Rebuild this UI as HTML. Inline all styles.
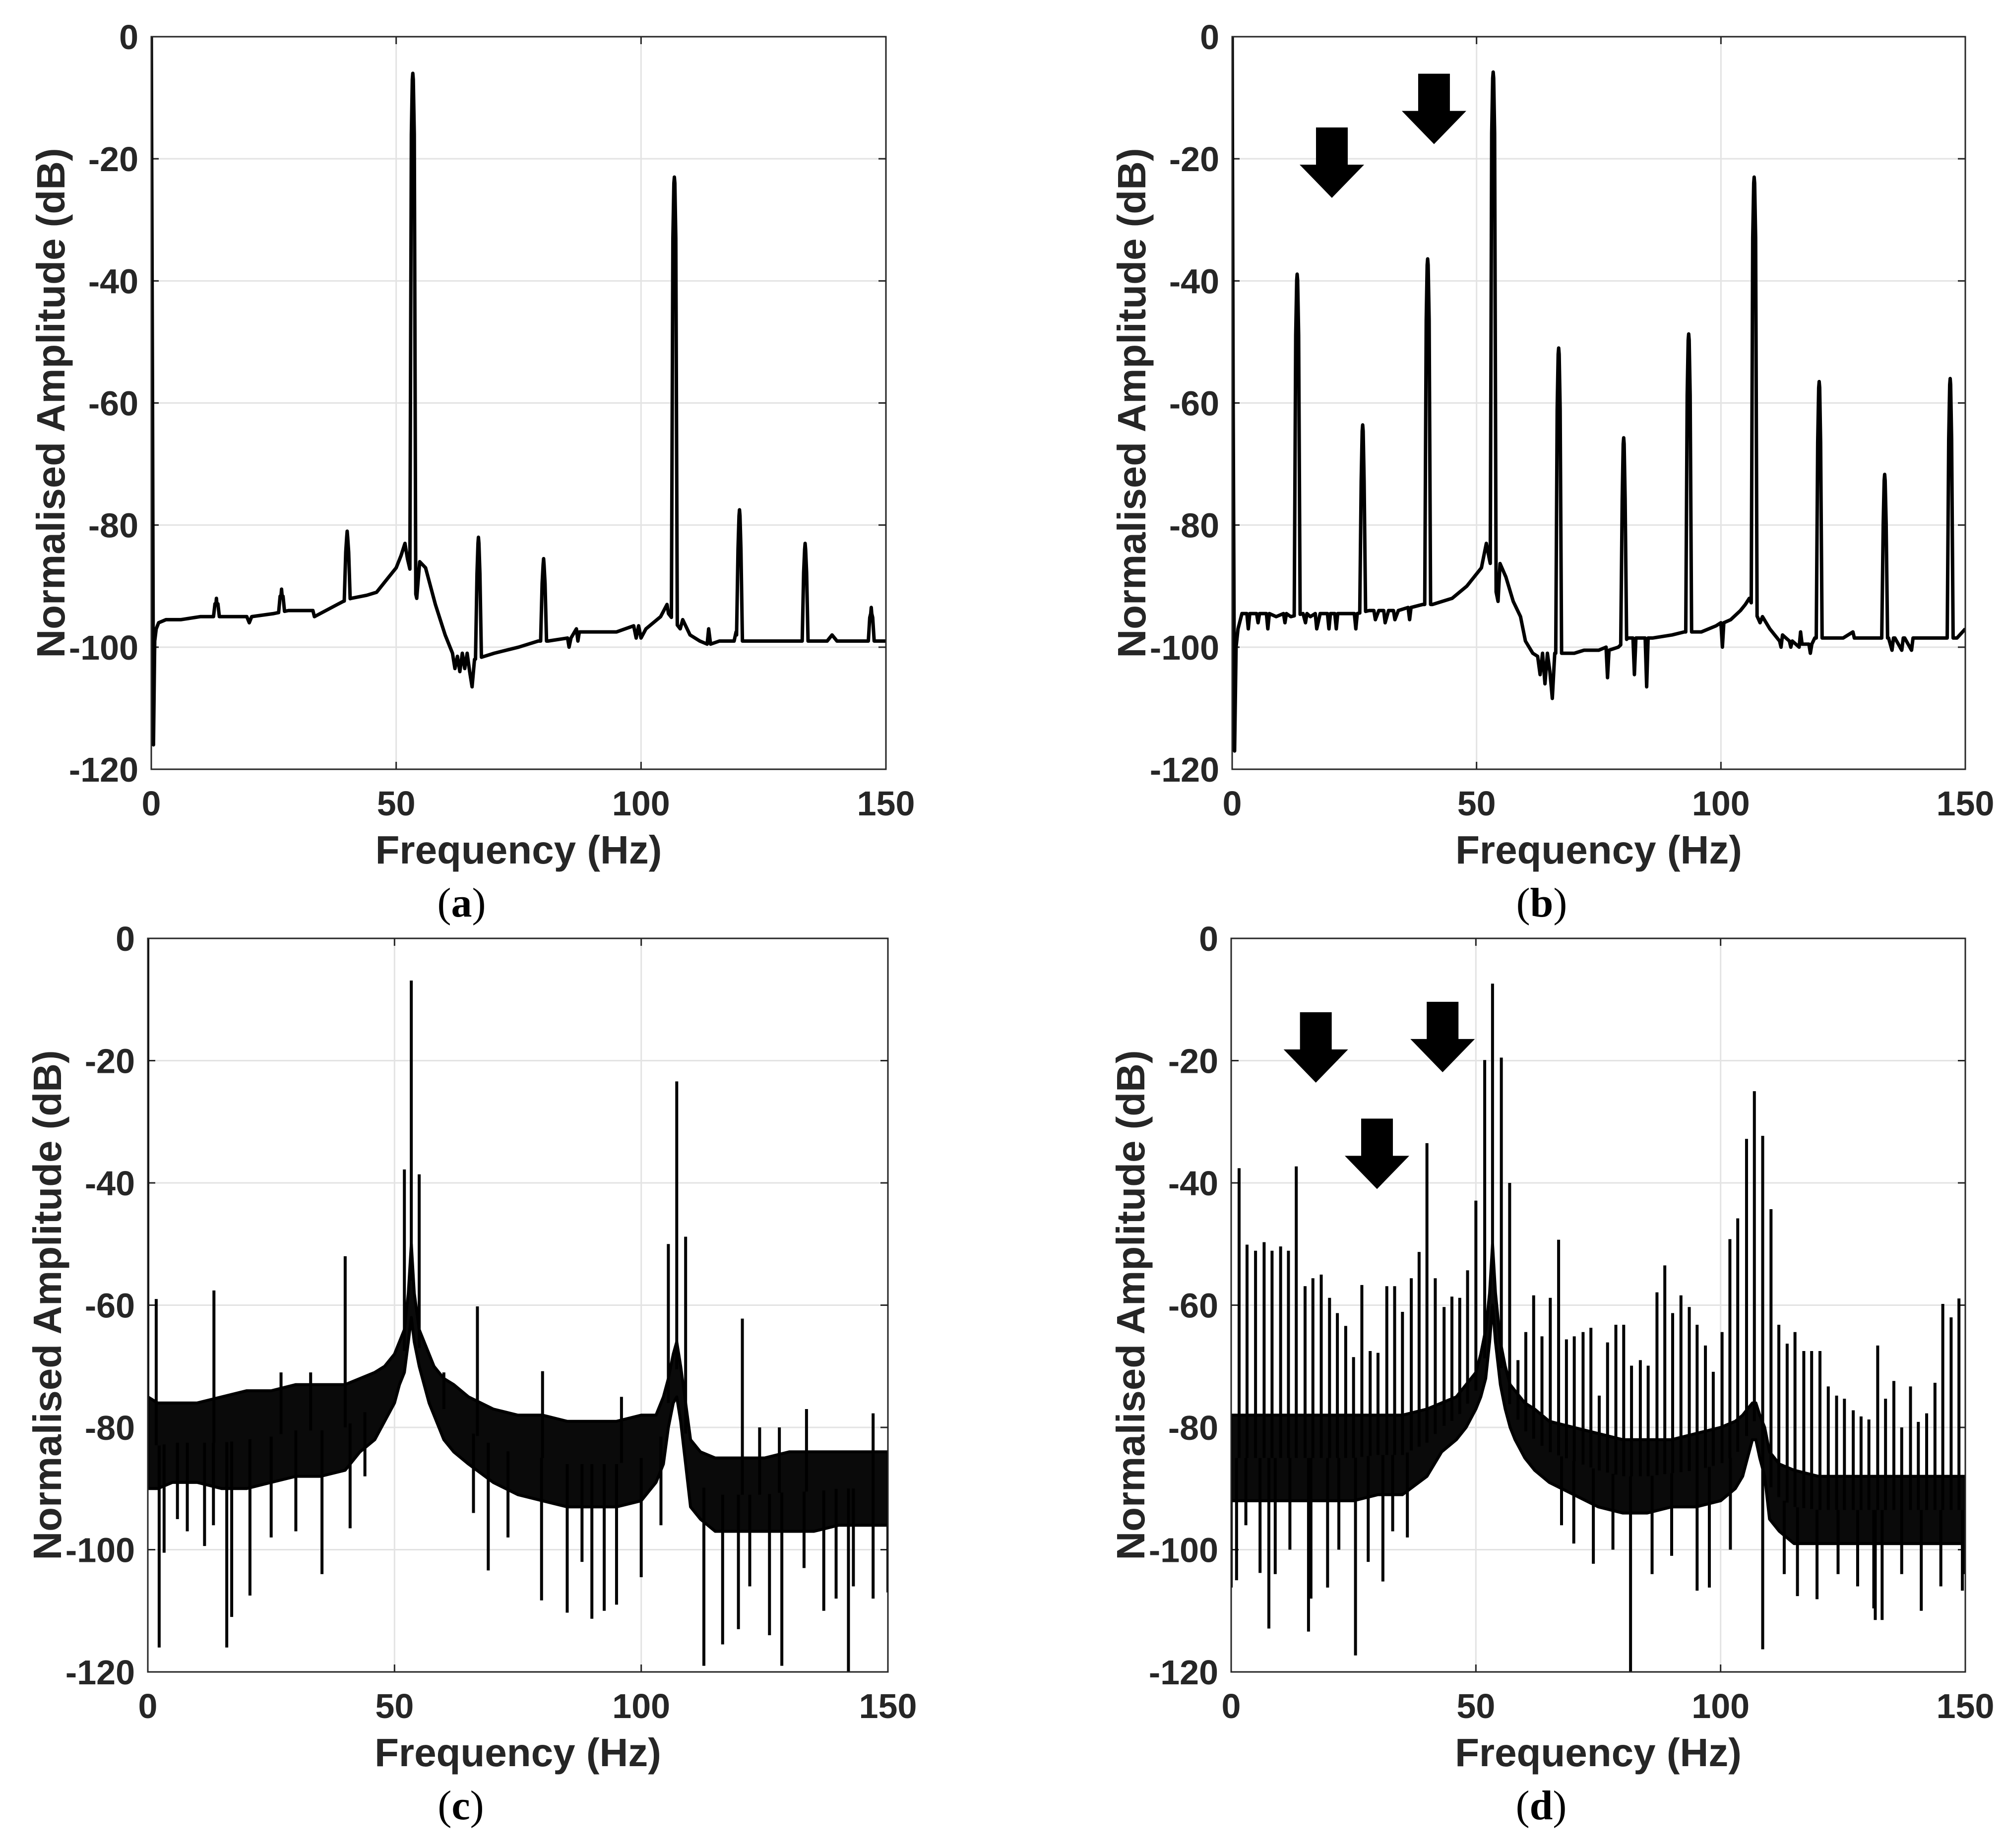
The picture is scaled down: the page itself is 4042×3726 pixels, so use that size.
<!DOCTYPE html>
<html><head><meta charset="utf-8"><style>
html,body{margin:0;padding:0;background:#fff;}
svg{display:block;}
text{font-family:"Liberation Sans",Arial,sans-serif;font-weight:bold;fill:#262626;}
.cap{font-family:"Liberation Serif",serif;font-weight:normal;fill:#000;}
</style></head><body>
<svg id="fig" width="4042" height="3726" viewBox="0 0 4042 3726" xmlns="http://www.w3.org/2000/svg"></svg>
<script>
// ---------- data ----------
const xTicks=[0,50,100,150];
const yTicks=[0,-20,-40,-60,-80,-100,-120];
const xTickLabels=["0","50","100","150"];
const yTickLabels=["0","-20","-40","-60","-80","-100","-120"];

// (a)
const baseFreqA=[0,0.25,0.45,0.7,1.0,1.5,3,6,10,12,15,19.5,20,20.5,25,28,33,33.3,38,39.2,40.8,44,46,48,50,51,51.8,52.3,54.2,54.8,56,58,60,61.5,62,62.5,63,63.5,64,64.5,65,65.5,66,68,70,75,79,81,85,85.3,85.7,86.8,87.1,87.4,95,98.5,99,99.5,100,101,104,105.3,105.6,108,108.5,110,112,113.5,113.8,114.2,116,119,119.4,119.7,121,125,130,132.8,134.2,138,139,140,145,146,148,150];
const baseDBA=[0,-60,-116,-99,-97,-96,-95.5,-95.5,-95,-95,-95,-95,-96,-95,-94.5,-94,-94,-95,-93,-92.5,-92,-91.5,-91,-89,-87,-85,-83,-85.5,-92,-86,-87,-93,-98,-101,-103.5,-101.5,-104,-101,-103.5,-101,-104,-106.5,-102,-101.5,-101,-100,-99,-99,-98.5,-100,-98.5,-97,-99,-97.5,-97.5,-96.5,-98.5,-96.5,-98.5,-97,-95,-93,-94.5,-97,-95.5,-98,-99,-99.5,-97,-99.5,-99,-99,-97.5,-99,-99,-99,-99,-99,-99,-99,-98,-99,-99,-99,-99,-99];
const peakFreqA=[13.3,26.6,40,53.4,66.8,80.1,106.8,120.1,133.5,147];
const peakDBA=[-92,-90.5,-81,-6,-82,-85.5,-23,-77.5,-83,-93.5];

// (b)
const baseFreqB=[0,0.2,0.5,0.8,1.2,2,3,3.3,3.6,5,5.3,5.6,7,7.3,7.6,9,10.5,10.8,11.1,12,14.5,15,15.3,16,17,17.3,18,19.5,19.8,20.1,21,21.3,21.6,24,25,25.3,25.6,28,29,29.3,30,31,31.3,32,33,33.3,34,36,36.3,36.6,39,41,43,45,48,51,52,52.6,54.4,54.8,56,57.5,59,60,61.5,62.5,63,63.5,64,64.5,65,65.5,66,68,70,72,75,76.5,76.8,77.1,79,81,82,82.3,82.6,83,84,84.5,84.8,85.1,86,90,92.5,94.5,96,99,100,100.3,100.6,102,104,105,105.8,108,108.5,110,111,112,112.3,112.6,114,114.3,114.6,116,116.3,116.6,118,118.3,118.6,119.2,121,122,125,127,127.3,127.6,130,132.5,134.3,135,135.3,135.6,137,137.3,137.6,139,139.3,139.6,141,144,145,146,148,148.3,150];
const baseDBB=[0,-60,-117,-100,-97,-94.5,-94.5,-97,-94.5,-94.5,-96,-94.5,-94.5,-97,-94.5,-95,-94.5,-96,-94.5,-95,-94.5,-96,-94.5,-95,-94.5,-97,-94.5,-94.5,-97,-94.5,-94.5,-97,-94.5,-94.5,-94.5,-97,-94.5,-94,-94,-95.5,-94,-94,-96,-94,-94,-95.5,-94,-93.5,-95.5,-93.5,-93,-93,-92.5,-92,-90,-87,-83,-85.5,-92.5,-86.3,-88.5,-92.5,-95,-99,-101,-101.5,-104.5,-101,-106,-101,-104,-108.4,-101,-101,-101,-100.5,-100.5,-100,-105,-100.5,-100,-98.5,-98.5,-104.5,-98.5,-98.5,-98.5,-98.5,-106.5,-98.5,-98.5,-98,-97.5,-97.5,-97.5,-96.5,-96,-100,-96,-95.5,-94,-93,-92,-96,-95,-97,-98,-99,-100,-98,-99,-100,-99,-100,-97.5,-99.5,-99.5,-101,-99.5,-98.5,-98.5,-98.5,-98.5,-97.5,-98.5,-98.5,-98.5,-98.5,-98.5,-100.5,-98.5,-98.5,-100.5,-98.5,-98.5,-100.5,-98.5,-98.5,-98.5,-98.5,-98.5,-98.5,-98.5,-98.5,-97,-98.5];
const peakFreqB=[13.3,26.7,40,53.4,66.8,80.1,93.4,106.8,120.1,133.5,146.9];
const peakDBB=[-38.9,-63.6,-36.4,-5.8,-51,-65.7,-48.7,-23,-56.5,-71.7,-56];
const arrowFreqB=[20.4,41.3];
const arrowTipDBB=[-26.4,-17.6];

// (c)
const bandFreq=[0,2,5,10,15,20,25,30,35,40,43,46,48,50,51,52,52.8,53.4,54,55,56,57,58,60,62,65,70,75,80,85,90,95,100,103,104.5,105.5,106.5,107.2,108,109,110,112,115,120,125,130,135,140,145,150];
const bandUpperC=[-75,-76,-76,-76,-75,-74,-74,-73,-73,-73,-72,-71,-70,-68,-66,-64,-58,-50,-58,-64,-66,-68,-70,-72,-73,-75,-77,-78,-78,-79,-79,-79,-78,-78,-75,-72,-68,-66,-70,-76,-82,-84,-85,-85,-85,-84,-84,-84,-84,-84];
const bandLowerC=[-90,-90,-89,-89,-90,-90,-89,-88,-88,-87,-84,-82,-79,-76,-73,-71,-66,-62,-66,-70,-73,-76,-78,-82,-84,-86,-89,-91,-92,-93,-93,-93,-92,-89,-86,-80,-76,-75,-79,-86,-93,-95,-97,-97,-97,-97,-97,-96,-96,-96];
const upFreqC=[0,1.7,13.4,27,33,40,52,53.4,55,60,66.8,80,96,105.5,107.2,109,120.5,124,128,133.5,147];
const upDBC=[0,-59,-57.6,-71,-71,-52,-37.8,-6.9,-38.6,-71,-60.2,-70.8,-75,-50,-23.4,-48.8,-62.2,-80,-80,-77,-77.7];
const downFreqC=[2.3,3.3,6,8,11.5,13.3,16,17,20.7,25,30,35.3,41,44,66,69,73,79.8,85,88,90,92.5,95,100,104,112.7,116.5,119.7,122,126,128.5,133,137,139.5,142,143,147,150];
const downDBC=[-116,-100.5,-95,-97,-99.4,-96,-116,-111,-107.5,-98,-97,-104,-96.5,-88,-94,-103.4,-98,-108.3,-110.3,-102,-111.3,-110,-109,-104.5,-96,-119,-115.5,-113,-106,-114,-119,-103,-110,-108,-120,-106,-108,-107];

// (d)
const bandUpperD=[-78,-78,-78,-78,-78,-78,-78,-78,-78,-77,-76,-75,-73,-71,-68,-64,-58,-50,-58,-66,-70,-73,-74,-76,-77,-79,-80,-81,-82,-82,-82,-81,-80,-79,-78,-77,-76,-76,-78,-80,-84,-86,-87,-88,-88,-88,-88,-88,-88,-88];
const bandLowerD=[-92,-92,-92,-92,-92,-92,-92,-91,-91,-88,-84,-82,-80,-77,-75,-72,-66,-60,-66,-73,-77,-80,-82,-85,-87,-89,-91,-93,-94,-94,-93,-93,-92,-90,-88,-85,-82,-82,-85,-88,-95,-97,-99,-99,-99,-99,-99,-99,-99,-99];
const upFreqD=[1.62,3.24,4.98,6.73,8.35,10.1,11.7,13.3,15.1,16.7,18.4,20.1,21.7,23.4,25.0,26.7,28.4,30.0,31.8,33.4,35.0,36.8,38.4,40.0,41.7,43.5,45.1,46.7,48.3,50.0,51.8,53.4,55.2,56.9,58.6,60.2,61.8,63.5,65.2,66.9,68.5,70.1,71.9,73.5,75.2,76.9,78.6,80.2,81.8,83.6,85.2,87.0,88.6,90.2,91.9,93.6,95.2,96.9,98.5,100.3,101.9,103.5,105.3,106.9,108.6,110.3,111.9,113.6,115.2,117.0,118.6,120.3,122.0,123.7,125.3,127.1,128.7,130.3,132.1,133.7,135.4,137.0,138.8,140.4,142.1,143.8,145.4,147.1,148.7];
const upDBD=[-37.6,-50.1,-51.1,-49.7,-51.1,-50.4,-51.1,-37.3,-56.9,-55.6,-55.0,-58.8,-61.3,-63.4,-68.5,-56.7,-67.5,-67.8,-56.9,-56.9,-61.1,-55.6,-51.3,-33.5,-55.6,-60.3,-58.6,-58.8,-54.3,-42.9,-19.9,-7.4,-19.5,-40.0,-69.0,-64.4,-58.4,-65.1,-58.8,-49.3,-65.6,-65.1,-64.4,-63.7,-74.8,-66.1,-63.2,-63.2,-69.9,-69.0,-69.9,-57.9,-53.5,-61.3,-58.4,-60.3,-63.2,-66.6,-70.9,-64.4,-49.2,-45.8,-32.8,-25.0,-32.3,-44.3,-63.2,-66.3,-64.4,-67.5,-67.5,-67.5,-73.3,-74.8,-75.3,-77.2,-78.2,-78.7,-66.6,-75.3,-72.4,-80,-73.3,-79.1,-77.7,-72.7,-59.8,-62.0,-58.9];
const downFreqD=[0,1.1,3,5.9,7.7,9,12,15.8,16.3,19.7,22,25.4,28,31,33,36,67.5,70,74,78,81.6,86,90,95.2,97.7,102,108.6,113,115.7,119.7,124,128,131.3,131.6,133,137,141,145,149.4,150];
const downDBD=[-106.2,-105,-96,-103.8,-112.9,-104,-100,-113.4,-108,-106.2,-100,-117.3,-102,-105.2,-97,-98,-96,-99,-102.3,-100,-120,-104,-101,-106.7,-106.2,-100,-116.3,-104,-107.6,-108.1,-104,-106,-109.6,-111.5,-111.5,-104,-110,-106,-106.7,-104];
const arrowFreqD=[17.3,43.2,29.8];
const arrowTipDBD=[-23.6,-21.9,-41.0];

// ---------- rendering ----------
const NS="http://www.w3.org/2000/svg";
const svg=document.getElementById("fig");
function mk(tag,attrs,parent){const e=document.createElementNS(NS,tag);for(const k in attrs)e.setAttribute(k,attrs[k]);(parent||svg).appendChild(e);return e;}

const panels=[
 {id:"a",x0:305,y0:74,w:1481,h:1477},
 {id:"b",x0:2484,y0:74,w:1478,h:1477},
 {id:"c",x0:298,y0:1892,w:1492,h:1479},
 {id:"d",x0:2482,y0:1892,w:1480,h:1479}
];
function sx(p,f){return p.x0+f/150*p.w;}
function sy(p,d){return p.y0+(-d)/120*p.h;}

function drawAxes(p,g){
  xTicks.forEach((t,i)=>{
    const x=sx(p,t);
    const gl=mk("line",{x1:x,y1:p.y0,x2:x,y2:p.y0+p.h,stroke:"#e3e3e3","stroke-width":3},g);
    
    
    const tk=mk("path",{d:`M${x},${p.y0+p.h}v-15M${x},${p.y0}v15`,stroke:"#262626","stroke-width":3,fill:"none"},g);
    
    
    const tl=mk("text",{x:x,y:p.y0+p.h+93,"font-size":70,"text-anchor":"middle"},g);
    tl.textContent=xTickLabels[i];
    
    
  });
  yTicks.forEach((t,i)=>{
    const y=sy(p,t);
    const gl=mk("line",{x1:p.x0,y1:y,x2:p.x0+p.w,y2:y,stroke:"#e3e3e3","stroke-width":3},g);
    
    
    const tk=mk("path",{d:`M${p.x0},${y}h15M${p.x0+p.w},${y}h-15`,stroke:"#262626","stroke-width":3,fill:"none"},g);
    
    
    const tl=mk("text",{x:p.x0-26,y:y+25,"font-size":70,"text-anchor":"end"},g);
    tl.textContent=yTickLabels[i];
    
    
  });
  const xt=mk("text",{x:p.x0+p.w/2,y:p.y0+p.h+190,"font-size":80,"text-anchor":"middle"},g);
  xt.textContent="Frequency (Hz)";
  
  
  const cx=p.x0-203, cy=p.y0+p.h/2;
  const yt=mk("text",{x:cx,y:cy+28,"font-size":80,"text-anchor":"middle",transform:`rotate(-90 ${cx} ${cy})`},g);
  yt.textContent="Normalised Amplitude (dB)";
  
  
  const cap=mk("text",{x:p.x0+p.w/2-115,y:p.y0+p.h+297,"font-size":84,"text-anchor":"middle",class:"cap"},g);
  cap.innerHTML='(<tspan font-weight="bold">'+p.id+'</tspan>)';
  
  
}
function drawFrame(p,g){
  const fr=mk("rect",{x:p.x0,y:p.y0,width:p.w,height:p.h,fill:"none",stroke:"#262626","stroke-width":3},g);
  
  
}
function drawSmooth(p,g,bf,bd,pf,pd){
  const pts=[];
  const n=Math.min(bf.length,bd.length);
  for(let i=0;i<n;i++)pts.push([bf[i],bd[i]]);
  function baseAt(f){for(let i=0;i<n-1;i++){if(bf[i]<=f&&bf[i+1]>=f){const t=(f-bf[i])/(bf[i+1]-bf[i]||1);return bd[i]+t*(bd[i+1]-bd[i]);}}return bd[n-1];}
  for(let k=0;k<pf.length;k++){
    const f=pf[k],v=pd[k];
    for(let i=pts.length-1;i>=0;i--){if(Math.abs(pts[i][0]-f)<0.55)pts.splice(i,1);}
    const bl=baseAt(f-0.6), br=baseAt(f+0.6);
    const drop=Math.min(10,Math.max(0,(v-Math.min(bl,br))*0.3));
    pts.push([f-0.6,bl],[f-0.3,v-drop],[f-0.1,v-1],[f,v],[f+0.1,v-1],[f+0.3,v-drop],[f+0.6,br]);
  }
  pts.sort((a,b)=>a[0]-b[0]);
  const d=pts.map((q,i)=>(i?"L":"M")+sx(p,q[0]).toFixed(1)+","+sy(p,Math.max(-120,q[1])).toFixed(1)).join("");
  const path=mk("path",{d:d,fill:"none",stroke:"#000","stroke-width":7,"stroke-linejoin":"round"},g);
  
  
}
function drawNoisy(p,g,up,lo,uf,ud,df,dd){
  let d="";
  for(let i=0;i<bandFreq.length;i++)d+=(i?"L":"M")+sx(p,bandFreq[i]).toFixed(1)+","+sy(p,up[i]).toFixed(1);
  for(let i=bandFreq.length-1;i>=0;i--)d+="L"+sx(p,bandFreq[i]).toFixed(1)+","+sy(p,lo[i]).toFixed(1);
  const band=mk("path",{d:d+"Z",fill:"#0a0a0a",stroke:"#000","stroke-width":6,"stroke-linejoin":"round"},g);
  
  
  function mid(f){for(let i=0;i<bandFreq.length-1;i++){if(bandFreq[i]<=f&&bandFreq[i+1]>=f){const t=(f-bandFreq[i])/(bandFreq[i+1]-bandFreq[i]);return ((up[i]+lo[i])/2)*(1-t)+((up[i+1]+lo[i+1])/2)*t;}}return (up[up.length-1]+lo[lo.length-1])/2;}
  for(let i=0;i<Math.min(uf.length,ud.length);i++){
    const x=sx(p,uf[i]);
    const s=mk("line",{x1:x,y1:sy(p,mid(uf[i])),x2:x,y2:sy(p,ud[i]),stroke:"#000","stroke-width":6},g);
    
    
  }
  for(let i=0;i<Math.min(df.length,dd.length);i++){
    const x=sx(p,df[i]);
    const s=mk("line",{x1:x,y1:sy(p,mid(df[i])),x2:x,y2:sy(p,Math.max(-120,dd[i])),stroke:"#000","stroke-width":6},g);
    
    
  }
}
function drawArrows(p,g,af,ad){
  for(let i=0;i<af.length;i++){
    const x=sx(p,af[i]),y=sy(p,ad[i]);
    const d=`M${x-32},${y-142}h64v75h33l-65,67l-65,-67h33z`;
    const a=mk("path",{d:d,fill:"#000"},g);
    
    
  }
}

panels.forEach(p=>{
  const g=mk("g",{});
  
  
  drawAxes(p,g);
  const clipId="clip"+p.id;
  const cp=mk("clipPath",{id:clipId},g);
  mk("rect",{x:p.x0,y:p.y0-2,width:p.w,height:p.h+4},cp);
  const pg=mk("g",{"clip-path":`url(#${clipId})`},g);
  
  
  if(p.id==="a")drawSmooth(p,pg,baseFreqA,baseDBA,peakFreqA,peakDBA);
  if(p.id==="b"){drawSmooth(p,pg,baseFreqB,baseDBB,peakFreqB,peakDBB);drawArrows(p,pg,arrowFreqB,arrowTipDBB);}
  if(p.id==="c")drawNoisy(p,pg,bandUpperC,bandLowerC,upFreqC,upDBC,downFreqC,downDBC);
  if(p.id==="d"){drawNoisy(p,pg,bandUpperD,bandLowerD,upFreqD,upDBD,downFreqD,downDBD);drawArrows(p,pg,arrowFreqD,arrowTipDBD);}
  drawFrame(p,g);
});
</script>
</body></html>
